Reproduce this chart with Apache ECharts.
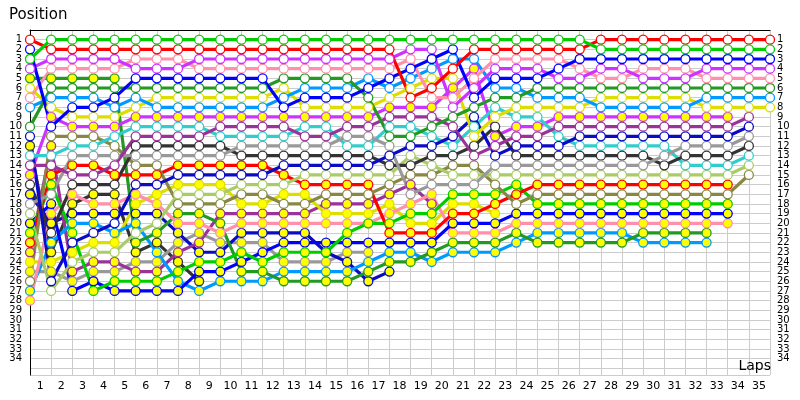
<!DOCTYPE html>
<html>
<head>
<meta charset="utf-8">
<script src="https://cdn.jsdelivr.net/npm/echarts@6/dist/echarts.min.js"></script>
<style>
    html, body { margin: 0; padding: 0; background: #fff; }
    #lapChart { width: 800px; height: 400px; }
</style>
</head>
<body>
<div id="lapChart"></div>
<script>
// position of each car per lap (lap 0 .. 35), null = not running
const green      = [3,1,1,1,1,1,1,1,1,1,1,1,1,1,1,1,1,1,1,1,1,1,1,1,1,1,1,2,2,2,2,2,2,2,2,2]
const red        = [1,2,2,2,2,2,2,2,2,2,2,2,2,2,2,2,2,2,7,6,4,2,2,2,2,2,2,1,1,1,1,1,1,1,1,1]
const blue       = [2,10,8,8,7,5,5,5,5,5,5,5,8,7,7,7,6,5,4,3,2,7,5,5,5,4,3,3,3,3,3,3,3,3,3,3]
const purple     = [4,3,3,3,3,4,4,4,3,3,3,3,3,3,3,3,3,3,2,2,8,6,4,4,4,5,5,4,4,5,5,5,4,4,4,4]
const pink       = [7,4,4,4,4,3,3,3,4,4,4,4,4,4,4,4,4,4,3,7,7,5,3,3,3,3,4,5,5,4,4,4,5,5,5,5]
const darkGreen  = [10,6,6,6,6,6,6,6,6,6,6,6,5,5,5,5,7,11,11,10,9,8,7,7,6,6,6,6,6,6,6,6,6,6,6,6]
const lightBlue  = [8,7,7,7,8,7,8,8,8,8,8,8,7,6,6,6,5,6,5,4,3,3,6,6,7,7,7,8,8,8,8,8,7,7,7,7]
const yellow     = [6,8,9,9,9,8,7,7,7,7,7,7,6,8,8,8,8,7,6,5,5,11,9,8,8,8,8,7,7,7,7,7,8,8,8,8]
const darkPurple = [14,14,15,15,14,11,11,11,11,10,10,10,10,11,11,10,10,9,9,9,10,13,12,11,11,10,10,10,10,10,10,10,10,10,9,null]
const navy       = [11,26,22,21,20,16,16,15,15,15,15,15,14,14,14,14,14,13,12,12,11,9,13,12,12,12,11,11,11,11,11,11,11,11,10,null]
const gray       = [18,17,13,13,13,13,13,13,13,13,12,12,12,12,12,11,11,12,17,16,16,16,14,14,14,14,14,14,14,14,13,12,12,12,11,null]
const darkGray   = [16,21,16,16,16,12,12,12,12,12,13,13,13,13,13,13,13,14,14,13,13,12,10,13,13,13,13,13,13,13,14,13,13,13,12,null]
const teal       = [13,13,12,12,11,10,10,10,10,11,11,11,11,10,10,12,12,10,10,11,12,10,8,9,9,11,12,12,12,12,12,14,14,14,13,null]
const lightGreen = [19,27,24,23,23,21,20,17,17,17,16,16,16,15,15,15,15,15,13,14,15,15,15,15,15,15,15,15,15,15,15,15,15,15,14,null]
const olive      = [26,11,11,11,12,14,14,18,18,18,17,17,18,18,17,17,17,16,15,15,14,14,16,18,17,17,17,17,17,17,17,17,17,17,15,null]

// lapped cars (yellow markers)
const purpleL    = [15,9,10,10,10,9,9,9,9,9,9,9,9,9,9,9,9,8,8,8,6,4,11,10,10,9,9,9,9,9,9,9,9,9,null,null]
const redL       = [22,15,14,14,15,15,15,14,14,14,14,14,15,16,16,16,16,21,21,21,19,19,18,17,16,16,16,16,16,16,16,16,16,16,null,null]
const greenL     = [21,16,21,27,26,26,26,25,24,24,23,24,23,23,23,21,20,20,19,19,17,17,17,16,18,18,18,18,18,18,18,18,18,18,null,null]
const blueL      = [20,18,27,26,27,27,27,27,25,25,24,23,22,22,22,22,22,22,22,22,20,20,20,19,19,19,19,19,19,19,19,19,19,19,null,null]
const pinkL      = [28,19,17,18,18,17,18,20,20,21,20,20,20,20,20,20,20,19,18,17,21,21,21,20,20,20,20,20,20,20,20,20,20,20,null,null]
const darkGreenL = [5,5,5,5,5,22,21,19,19,20,25,25,26,26,26,26,25,24,24,23,22,22,22,21,22,22,22,22,22,21,21,21,21,null,null,null]
const lightBlueL = [27,22,20,20,21,20,23,26,27,26,26,26,25,25,25,25,24,23,23,24,23,23,23,22,21,21,21,21,21,22,22,22,22,null,null,null]
const yellowL    = [24,24,23,22,22,18,17,16,16,16,18,18,17,17,19,19,19,18,20,20,18,18,19,null,null,null,null,null,null,null,null,null,null,null,null,null]
const darkPurpleL = [23,12,25,24,24,25,25,23,22,19,19,19,19,19,18,18,18,17,16,18,null,null,null,null,null,null,null,null,null,null,null,null,null,null,null,null]
const navyL      = [17,20,19,19,19,19,19,21,23,23,21,21,21,21,23,24,26,25,null,null,null,null,null,null,null,null,null,null,null,null,null,null,null,null,null,null]
const grayL      = [25,25,26,25,25,24,24,22,21,22,22,22,24,24,24,23,23,null,null,null,null,null,null,null,null,null,null,null,null,null,null,null,null,null,null,null]
const darkGrayL  = [12,23,18,17,17,23,22,24,26,null,null,null,null,null,null,null,null,null,null,null,null,null,null,null,null,null,null,null,null,null,null,null,null,null,null,null]

const positionLabels = ['1','2','3','4','5','6','7','8','9','10','11','12','13','14','15','16','17','18','19','20','21','22','23','24','25','26','27','28','29','30','31','32','33','34']
const lapLabels = ['1','2','3','4','5','6','7','8','9','10','11','12','13','14','15','16','17','18','19','20','21','22','23','24','25','26','27','28','29','30','31','32','33','34','35']

const WHITE = '#ffffff'
const LAPPED = '#ffff00'

const cars = [
    { name: 'darkGrayL', data: darkGrayL, color: '#333333', fill: LAPPED },
    { name: 'grayL', data: grayL, color: '#999999', fill: LAPPED },
    { name: 'navyL', data: navyL, color: '#0b0bc4', fill: LAPPED },
    { name: 'darkPurpleL', data: darkPurpleL, color: '#993399', fill: LAPPED },
    { name: 'yellowL', data: yellowL, color: '#dddd00', fill: LAPPED },
    { name: 'lightBlueL', data: lightBlueL, color: '#0099ff', fill: LAPPED },
    { name: 'darkGreenL', data: darkGreenL, color: '#229922', fill: LAPPED },
    { name: 'pinkL', data: pinkL, color: '#ff8faa', fill: LAPPED },
    { name: 'blueL', data: blueL, color: '#0000ff', fill: LAPPED },
    { name: 'greenL', data: greenL, color: '#00cc00', fill: LAPPED },
    { name: 'redL', data: redL, color: '#ff0000', fill: LAPPED },
    { name: 'purpleL', data: purpleL, color: '#cc33ff', fill: LAPPED },
    { name: 'olive', data: olive, color: '#888844', fill: WHITE },
    { name: 'lightGreen', data: lightGreen, color: '#aacc66', fill: WHITE },
    { name: 'teal', data: teal, color: '#33cccc', fill: WHITE },
    { name: 'darkGray', data: darkGray, color: '#333333', fill: WHITE },
    { name: 'gray', data: gray, color: '#999999', fill: WHITE },
    { name: 'navy', data: navy, color: '#0b0bc4', fill: WHITE },
    { name: 'darkPurple', data: darkPurple, color: '#993399', fill: WHITE },
    { name: 'yellow', data: yellow, color: '#dddd00', fill: WHITE },
    { name: 'lightBlue', data: lightBlue, color: '#0099ff', fill: WHITE },
    { name: 'darkGreen', data: darkGreen, color: '#229922', fill: WHITE },
    { name: 'pink', data: pink, color: '#ff8faa', fill: WHITE },
    { name: 'purple', data: purple, color: '#cc33ff', fill: WHITE },
    { name: 'blue', data: blue, color: '#0000ff', fill: WHITE },
    { name: 'red', data: red, color: '#ff0000', fill: WHITE },
    { name: 'green', data: green, color: '#00cc00', fill: WHITE }
]

const labelFont = { fontFamily: 'DejaVu Sans', fontSize: 10, color: '#000' }
const nameFont = { fontFamily: 'DejaVu Sans', fontSize: 15, fontWeight: 'normal', color: '#000' }

const chart = echarts.init(document.getElementById('lapChart'), null, { renderer: 'canvas' })
chart.setOption({
    animation: false,
    title: [
        { text: 'Position', left: 4, top: 3, textStyle: nameFont },
        { text: 'Laps', right: 24, top: 354, textStyle: { ...nameFont, fontSize: 14 } }
    ],
    grid: { left: 30, right: 30, top: 30, bottom: 25 },
    xAxis: {
        type: 'value',
        min: 0,
        max: 35,
        interval: 1,
        axisLine: { lineStyle: { color: '#000', width: 1 } },
        axisTick: { show: false },
        splitLine: { show: true, lineStyle: { color: '#cccccc', width: 1 } },
        axisLabel: {
            ...labelFont,
            fontSize: 11,
            margin: 6,
            padding: [0, 22, 0, 0],
            showMaxLabel: true,
            formatter: v => (v >= 1 && v <= 35 && Number.isInteger(v)) ? lapLabels[v - 1] : ''
        }
    },
    yAxis: [
        {
            type: 'value',
            inverse: true,
            min: 0,
            max: 35.7,
            interval: 1,
            axisLine: { show: true, lineStyle: { color: '#000', width: 1 } },
            axisTick: { show: false },
            splitLine: { show: true, showMinLine: false, lineStyle: { color: '#cccccc', width: 1 } },
            axisLabel: {
                ...labelFont,
                margin: 8,
                formatter: v => (v >= 1 && v <= 34 && Number.isInteger(v)) ? positionLabels[v - 1] : ''
            }
        },
        {
            type: 'value',
            inverse: true,
            position: 'right',
            min: 0,
            max: 35.7,
            interval: 1,
            axisLine: { show: false },
            axisTick: { show: false },
            splitLine: { show: false },
            axisLabel: {
                ...labelFont,
                margin: 7,
                formatter: v => (v >= 1 && v <= 34 && Number.isInteger(v)) ? positionLabels[v - 1] : ''
            }
        }
    ],
    series: cars.map(car => ({
        name: car.name,
        type: 'line',
        yAxisIndex: 0,
        data: car.data.map((pos, lap) => pos == null ? null : [lap, pos]).filter(p => p),
        symbol: 'circle',
        symbolSize: 9,
        showAllSymbol: true,
        lineStyle: { color: car.color, width: 3.2 },
        itemStyle: { color: car.fill, borderColor: car.color, borderWidth: 1.3 },
        emphasis: { disabled: true }
    }))
})
</script>
</body>
</html>
